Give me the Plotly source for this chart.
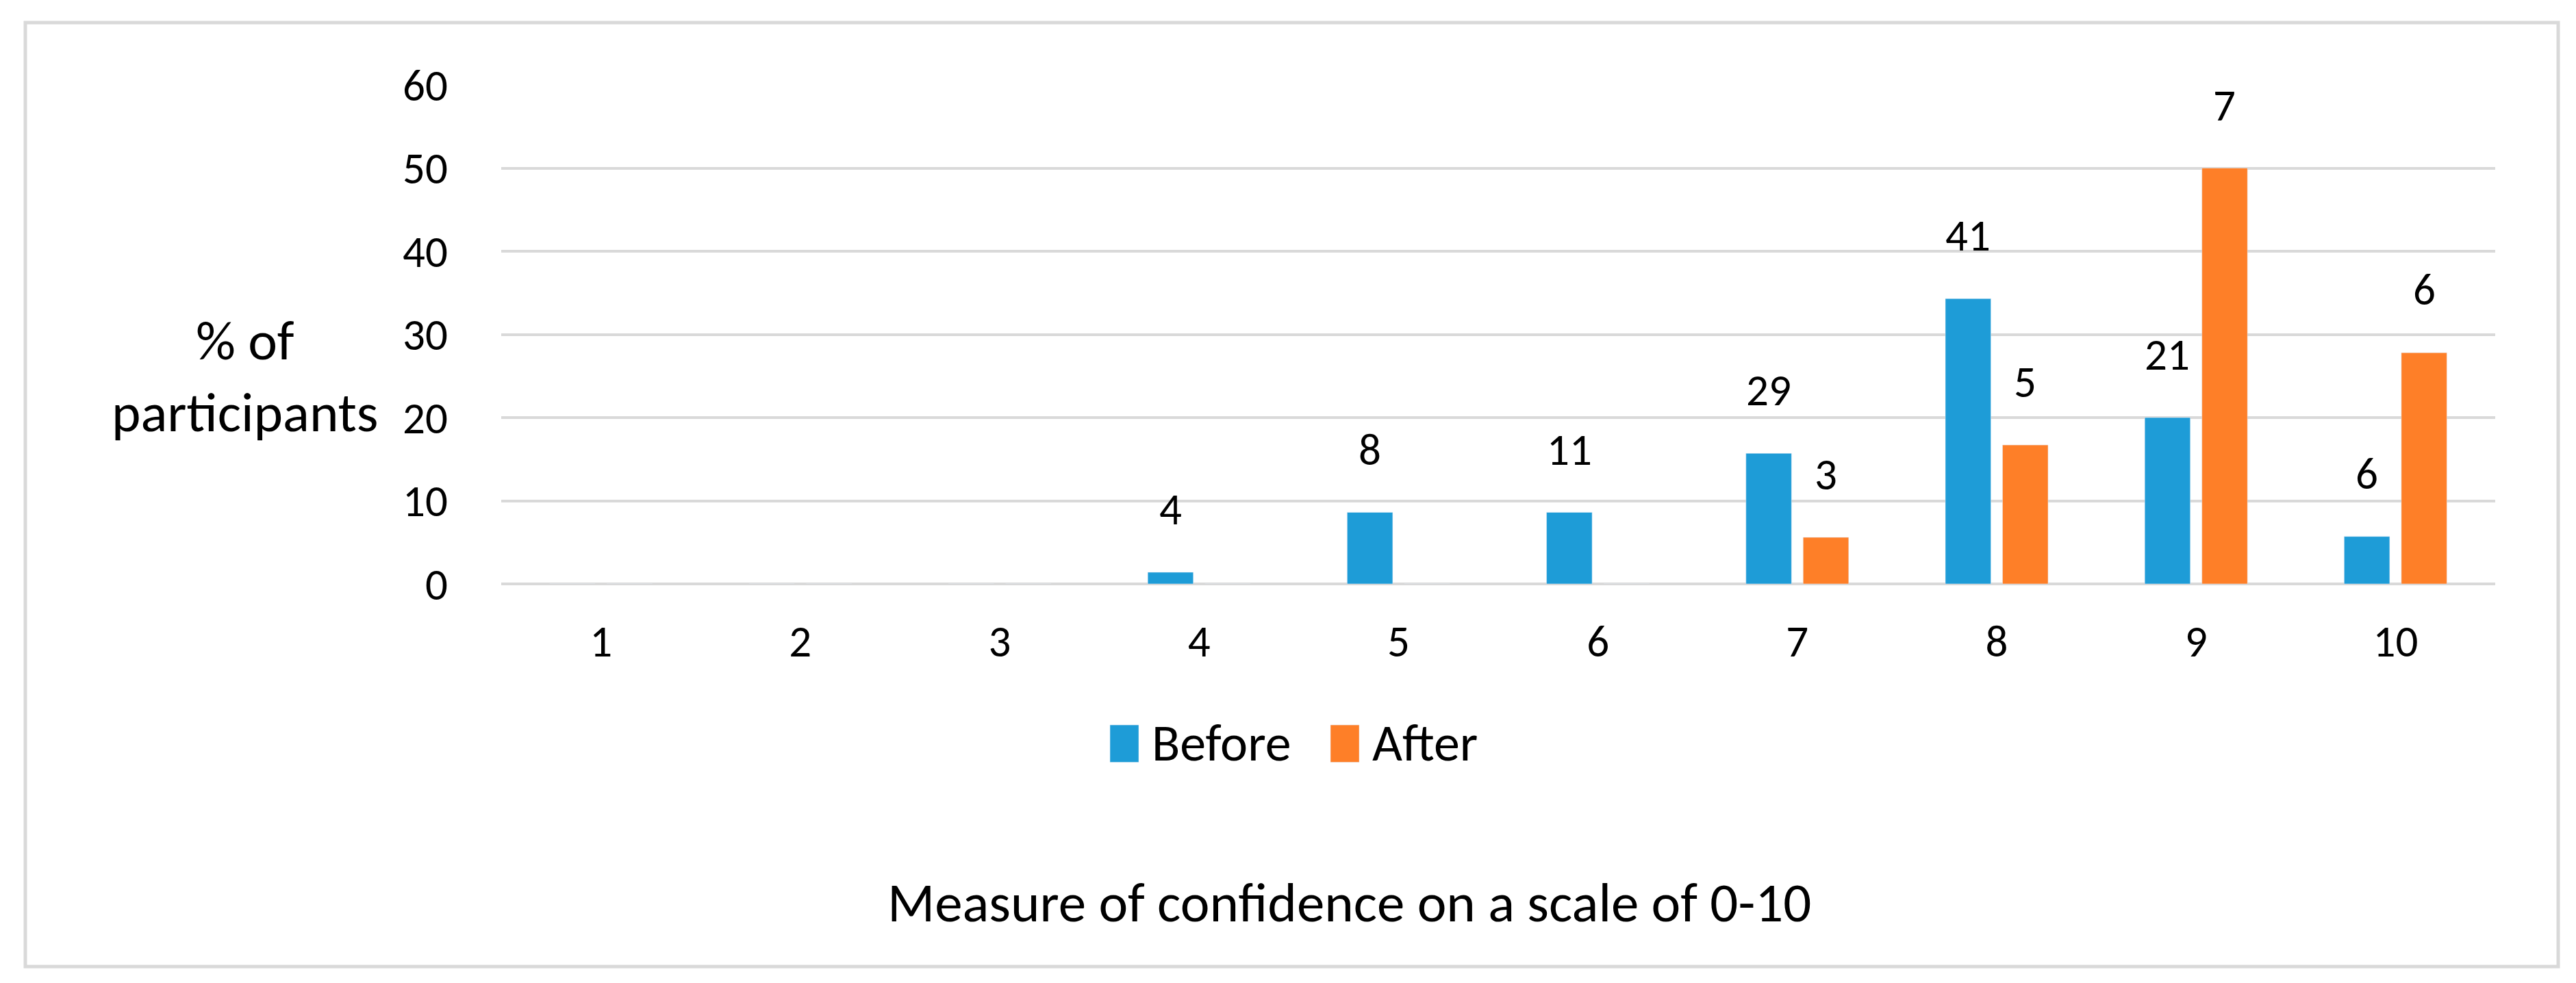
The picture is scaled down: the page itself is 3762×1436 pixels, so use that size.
import plotly.graph_objects as go

categories = ["1", "2", "3", "4", "5", "6", "7", "8", "9", "10"]
before_values = [0, 0, 0, 1.4, 8.6, 8.6, 15.7, 34.3, 20.0, 5.7]
after_values = [0, 0, 0, 0, 0, 0, 5.6, 16.7, 50.0, 27.8]
before_labels = ["", "", "", "4", "8", "11", "29", "41", "21", "6"]
after_labels = ["", "", "", "", "", "", "3", "5", "7", "6"]

W, H = 3762, 1436
ML, MR, MT, MB = 724, 126, 116, 591
plot_w = W - ML - MR
plot_h = H - MT - MB
BARGAP = 0.4265
FONT = "Carlito, Calibri, Lato, sans-serif"
BLUE = "#1E9CD7"
ORANGE = "#FE7F28"
GRID = "#D9D9D9"
LABEL_SIZE = 65
TITLE_SIZE = 81
LEGEND_SIZE = 76

fig = go.Figure()
fig.add_trace(go.Bar(name="Before", x=categories, y=before_values, marker_color=BLUE))
fig.add_trace(go.Bar(name="After", x=categories, y=after_values, marker_color=ORANGE))

cat_px = plot_w / len(categories)
offset = cat_px * (1 - BARGAP) / 4

annotations = []
for i, (val, lab) in enumerate(zip(before_values, before_labels)):
    if lab:
        annotations.append(dict(x=i, y=val, text=lab, xref="x", yref="y", showarrow=False,
                                xshift=-offset, yshift=51, yanchor="bottom",
                                font=dict(size=LABEL_SIZE, color="black", family=FONT)))
for i, (val, lab) in enumerate(zip(after_values, after_labels)):
    if lab:
        annotations.append(dict(x=i, y=val, text=lab, xref="x", yref="y", showarrow=False,
                                xshift=offset, yshift=51, yanchor="bottom",
                                font=dict(size=LABEL_SIZE, color="black", family=FONT)))

annotations.append(dict(text="% of<br>participants", xref="paper", yref="paper",
                        x=(350 - ML) / plot_w, y=(H - MB - 542) / plot_h,
                        xanchor="center", yanchor="middle", showarrow=False, align="center",
                        font=dict(size=TITLE_SIZE, color="black", family=FONT)))
annotations.append(dict(text="Measure of confidence on a scale of 0-10", xref="paper", yref="paper",
                        x=(1962 - ML) / plot_w, y=(H - MB - 1310) / plot_h,
                        xanchor="center", yanchor="middle", showarrow=False,
                        font=dict(size=TITLE_SIZE, color="black", family=FONT)))

fig.update_layout(
    width=W, height=H,
    margin=dict(l=ML, r=MR, t=MT, b=MB, autoexpand=False),
    paper_bgcolor="white", plot_bgcolor="white",
    barmode="group", bargap=BARGAP, bargroupgap=0.2036,
    font=dict(family=FONT, size=LABEL_SIZE, color="black"),
    showlegend=True,
    legend=dict(orientation="h", x=(1584 - ML) / plot_w, y=(H - MB - 1073) / plot_h,
                xanchor="left", yanchor="middle",
                font=dict(size=LEGEND_SIZE, color="black", family=FONT),
                itemwidth=80, entrywidth=227, bgcolor="rgba(0,0,0,0)"),
    annotations=annotations,
    shapes=[dict(type="rect", xref="paper", yref="paper",
                 x0=(29 - ML) / plot_w, x1=(3728 - ML) / plot_w,
                 y0=(H - MB - 1404) / plot_h, y1=(H - MB - 25) / plot_h,
                 line=dict(color=GRID, width=5), fillcolor="rgba(0,0,0,0)", layer="below")],
)
fig.update_xaxes(showgrid=False, showline=False, ticks="", ticklabelstandoff=40,
                 tickfont=dict(size=LABEL_SIZE, family=FONT, color="black"))
fig.update_yaxes(range=[0, 60], dtick=10, showgrid=True, gridcolor=GRID, gridwidth=4,
                 zeroline=True, zerolinecolor=GRID, zerolinewidth=4, showline=False,
                 ticks="", ticklabelstandoff=77, tickfont=dict(size=LABEL_SIZE, family=FONT, color="black"))

post = """
var gd = document.getElementById('{plot_id}');
function bigLegend(){
  gd.querySelectorAll('.legend .traces').forEach(function(t){
    var txt = t.querySelector('.legendtext');
    var path = t.querySelector('.legendpoints path');
    if(!txt || !path) return;
    var tr = txt.getBoundingClientRect();
    var m = path.parentNode.getScreenCTM();
    var fs = parseFloat(txt.style.fontSize) || 76;
    var tl = (tr.left - m.e) / m.a;
    var tt = (tr.top - m.f) / m.d;
    var x1 = tl - 19, x0 = x1 - 42;
    var y0 = tt + 0.27 * fs, y1 = tt + 0.987 * fs;
    path.removeAttribute('transform');
    path.setAttribute('d', 'M' + x0 + ',' + y0 + 'H' + x1 + 'V' + y1 + 'H' + x0 + 'Z');
  });
}
bigLegend();
gd.on('plotly_afterplot', bigLegend);
"""
fig.write_html("out.html", post_script=post)
